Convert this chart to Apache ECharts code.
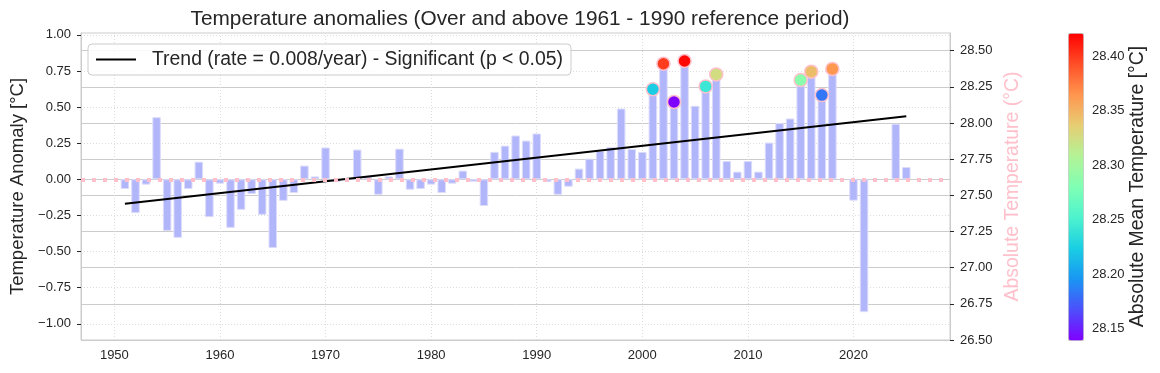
<!DOCTYPE html>
<html>
<head>
<meta charset="utf-8">
<script src="https://cdn.jsdelivr.net/npm/echarts@6/dist/echarts.min.js"></script>
<style>html,body{margin:0;padding:0;background:#fff}#c{width:1160px;height:373px}</style>
</head>
<body>
<div id="c"></div>
<script>
const YEARS = [1951,1952,1953,1954,1955,1956,1957,1958,1959,1960,1961,1962,1963,1964,1965,1966,1967,1968,1969,1970,
  1971,1972,1973,1974,1975,1976,1977,1978,1979,1980,1981,1982,1983,1984,1985,1986,1987,1988,1989,1990,
  1991,1992,1993,1994,1995,1996,1997,1998,1999,2000,2001,2002,2003,2004,2005,2006,2007,2008,2009,2010,
  2011,2012,2013,2014,2015,2016,2017,2018,2020,2021,2024,2025];
const ANOMALIES = [-0.067,-0.234,-0.037,0.430,-0.357,-0.405,-0.067,0.122,-0.262,-0.030,-0.336,-0.211,-0.102,-0.246,-0.475,-0.149,-0.095,0.095,0.020,0.220,
  -0.020,0.005,0.206,0.020,-0.107,0.020,0.212,-0.072,-0.067,-0.037,-0.095,-0.030,0.060,-0.017,-0.185,0.190,0.233,0.303,0.268,0.317,
  -0.019,-0.107,-0.051,0.074,0.143,0.196,0.224,0.490,0.210,0.190,0.623,0.800,0.535,0.819,0.509,0.643,0.726,0.127,0.053,0.127,
  0.053,0.254,0.389,0.421,0.687,0.745,0.583,0.764,-0.148,-0.919,0.384,0.085];
const HOT_YEARS = [2001,2002,2003,2004,2006,2007,2015,2016,2017,2018];
const HOT_ANOMALIES = [0.623,0.800,0.535,0.819,0.643,0.726,0.687,0.745,0.583,0.764];
const HOT_ABSOLUTE = [28.223,28.400,28.140,28.419,28.243,28.326,28.287,28.345,28.183,28.364];
const TREND_YEARS = [1951, 2025];
const TREND_VALUES = [-0.169, 0.437];
const X_TICKS = [1950,1960,1970,1980,1990,2000,2010,2020];
const LEFT_TICKS = [-1.00,-0.75,-0.50,-0.25,0.00,0.25,0.50,0.75,1.00];
const RIGHT_TICKS = [26.50,26.75,27.00,27.25,27.50,27.75,28.00,28.25,28.50];
const CBAR_TICKS = [28.15,28.20,28.25,28.30,28.35,28.40];
const TITLE = 'Temperature anomalies (Over and above 1961 - 1990 reference period)';
const TREND_NAME = 'Trend (rate = 0.008/year) - Significant (p < 0.05)';

const FONT = "'Liberation Sans', Arial, sans-serif";
const TXT = '#262626';
const fmt = v => Number(v).toFixed(2).replace('-', '\u2212');
const RAINBOW = ['#8000ff','#4d4ffc','#1996f3','#1acee3','#4df3ce','#80ffb4','#b3f396','#e6ce74','#ff964f','#ff4f28','#ff0000'];

const chart = echarts.init(document.getElementById('c'), null, {renderer: 'canvas'});
const option = {
  animation: false,
  textStyle: {fontFamily: FONT},
  title: {
    text: TITLE, left: 515, top: 4, textAlign: 'center',
    textStyle: {fontFamily: FONT, fontSize: 20.8, fontWeight: 'normal', color: TXT}
  },
  legend: {
    data: [{name: TREND_NAME, icon: 'rect'}], left: 88, top: 44, orient: 'horizontal',
    padding: [6, 8, 6, 8], itemWidth: 40, itemHeight: 2,
    backgroundColor: 'rgba(255,255,255,0.85)', borderColor: '#cccccc', borderWidth: 1, borderRadius: 4,
    textStyle: {fontFamily: FONT, fontSize: 19.4, color: TXT, padding: [0, 0, 0, 11]}
  },
  grid: [
    {left: 79, right: 210, top: 33, bottom: 33, show: true, borderColor: '#cccccc', borderWidth: 1, backgroundColor: 'transparent'},
    {left: 1068, width: 15, top: 33, bottom: 33, show: false}
  ],
  xAxis: [
    {
      type: 'value', gridIndex: 0, min: 1946.84, max: 2029.14,
      axisLine: {show: true, lineStyle: {color: '#cccccc'}},
      axisTick: {show: false, customValues: X_TICKS},
      axisLabel: {customValues: X_TICKS, fontSize: 13, color: TXT, margin: 9, fontFamily: FONT, formatter: v => String(v)},
      splitLine: {show: true, lineStyle: {color: '#dddddd', type: [1, 2], width: 1}}
    },
    {type: 'value', gridIndex: 1, min: 0, max: 1, show: false}
  ],
  yAxis: [
    {
      type: 'value', gridIndex: 0, position: 'left', min: -1.112, max: 1.0125,
      name: 'Temperature Anomaly [°C]', nameLocation: 'middle', nameGap: 54, nameRotate: 90,
      nameTextStyle: {fontSize: 18.5, color: TXT, fontFamily: FONT},
      axisLine: {show: true, lineStyle: {color: '#cccccc'}},
      axisTick: {show: true, customValues: LEFT_TICKS, length: 4, lineStyle: {color: TXT}},
      axisLabel: {customValues: LEFT_TICKS, fontSize: 13, color: TXT, margin: 10, fontFamily: FONT, formatter: fmt},
      splitLine: {show: true, lineStyle: {color: '#dddddd', type: [1, 2], width: 1}}
    },
    {
      type: 'value', gridIndex: 0, position: 'right', min: 26.5, max: 28.622,
      name: 'Absolute Temperature (°C)', nameLocation: 'middle', nameGap: 50, nameRotate: 90,
      nameTextStyle: {fontSize: 19.4, color: '#ffc0cb', fontFamily: FONT},
      axisLine: {show: true, lineStyle: {color: '#cccccc'}},
      axisTick: {show: true, customValues: RIGHT_TICKS, length: 4, lineStyle: {color: TXT}},
      axisLabel: {customValues: RIGHT_TICKS, fontSize: 13, color: TXT, margin: 10, fontFamily: FONT, formatter: v => Number(v).toFixed(2)},
      splitLine: {show: true, lineStyle: {color: '#cccccc', type: 'solid', width: 1}}
    },
    {
      type: 'value', gridIndex: 1, position: 'right', min: 28.1395, max: 28.4215,
      name: 'Absolute Mean Temperature [°C]', nameLocation: 'middle', nameGap: 45, nameRotate: 90,
      nameTextStyle: {fontSize: 19.4, color: TXT, fontFamily: FONT},
      axisLine: {show: false},
      axisTick: {show: true, customValues: CBAR_TICKS, length: 4, lineStyle: {color: TXT}},
      axisLabel: {customValues: CBAR_TICKS, fontSize: 13, color: TXT, margin: 9, fontFamily: FONT, formatter: v => Number(v).toFixed(2)},
      splitLine: {show: false}
    }
  ],
  visualMap: {
    type: 'continuous', seriesIndex: 2, dimension: 2,
    min: 28.1395, max: 28.4215, calculable: false, orient: 'vertical',
    left: 1068, top: 33, itemWidth: 15, itemHeight: 307, padding: 0,
    borderColor: '#cccccc', borderWidth: 1, text: null, showLabel: false,
    inRange: {color: RAINBOW}
  },
  series: [
    {
      type: 'bar', xAxisIndex: 0, yAxisIndex: 0, barWidth: 8.5,
      data: YEARS.map((y, i) => [y, ANOMALIES[i]]),
      itemStyle: {color: '#b1b5fa', borderColor: '#dcdcfb', borderWidth: 1},
      z: 2
    },
    {
      type: 'line', name: TREND_NAME, xAxisIndex: 0, yAxisIndex: 0, symbol: 'none',
      data: TREND_YEARS.map((y, i) => [y, TREND_VALUES[i]]),
      lineStyle: {color: '#000000', width: 2}, itemStyle: {color: '#000000'}, z: 4,
      markLine: {
        silent: true, symbol: ['none', 'none'], label: {show: false},
        lineStyle: {color: '#ffc0cb', type: [4, 7], width: 4, cap: 'butt', opacity: 1},
        emphasis: {disabled: true},
        data: [{yAxis: 0}], z: 5
      }
    },
    {
      type: 'scatter', xAxisIndex: 0, yAxisIndex: 0, symbolSize: 13,
      data: HOT_YEARS.map((y, i) => [y, HOT_ANOMALIES[i], HOT_ABSOLUTE[i]]),
      itemStyle: {borderColor: '#ffc0cb', borderWidth: 1.5, opacity: 1}, z: 6
    }
  ]
};
chart.setOption(option);
</script>
</body>
</html>
